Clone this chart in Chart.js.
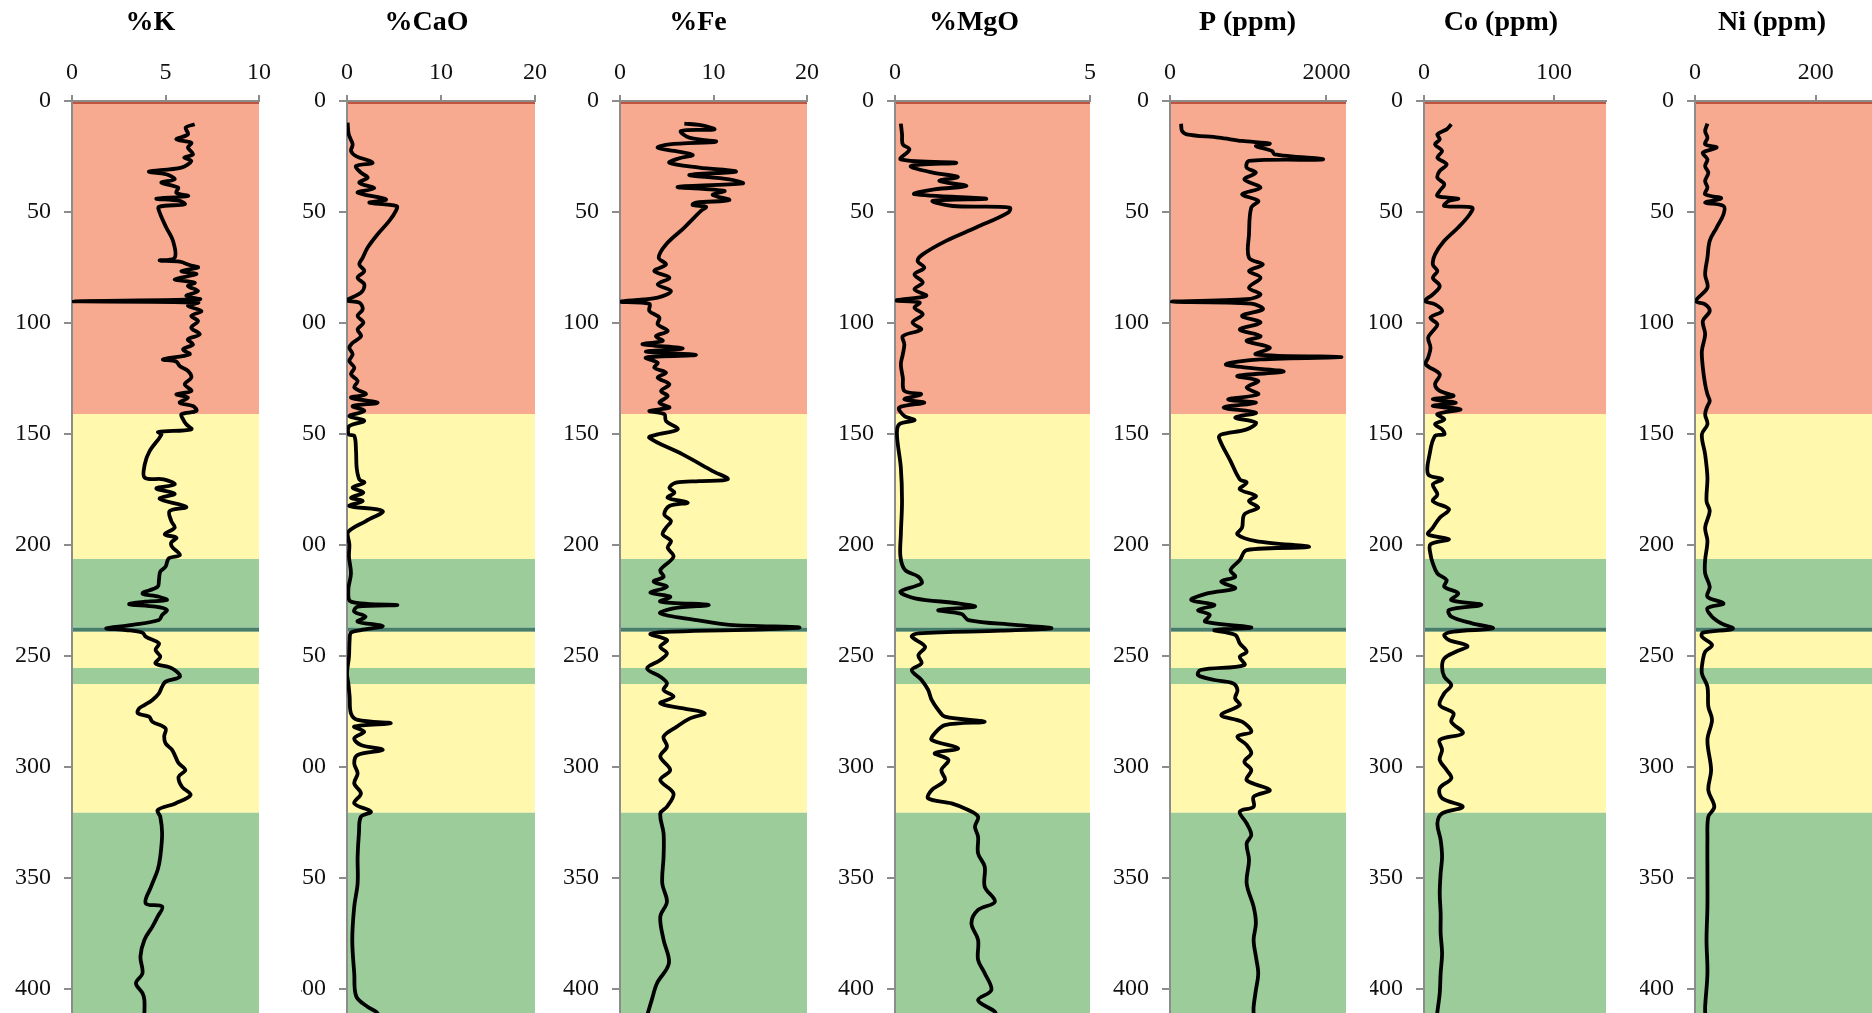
<!DOCTYPE html>
<html><head><meta charset="utf-8">
<script src="https://cdn.jsdelivr.net/npm/chart.js@4.4.1/dist/chart.umd.min.js"></script>
<style>
html,body{margin:0;padding:0;background:#fff;overflow:hidden;}
#wrap{position:relative;width:1872px;height:1013px;overflow:hidden;background:#fff;}
#wrap canvas{position:absolute;top:0;}
</style></head><body><div id="wrap"></div>
<script>
// ---------- DATA ----------
const titles = ['%K', '%CaO', '%Fe', '%MgO', 'P (ppm)', 'Co (ppm)', 'Ni (ppm)'];
const xMax   = [10, 20, 20, 5, 2250, 140, 300];
const xTicks = [[0, 5, 10], [0, 10, 20], [0, 10, 20], [0, 5], [0, 2000], [0, 100], [0, 200]];
const depthMax = 450, depthStep = 50;

// lithological zones (depth intervals)
const zoneFrom = [0, 141, 206.3, 237.2, 239.1, 255.4, 262.6, 320.6];
const zoneTo   = [141, 206.3, 237.2, 239.1, 255.4, 262.6, 320.6, 450];
const zoneKind = ['red', 'yellow', 'green', 'seam', 'yellow', 'green', 'yellow', 'green'];

const kDepth = [10.5,12,15,17.3,18.8,21,24,25.5,27,30,31.8,33,35.3,36.8,39,41.3,42.8,44,45,46.5,47.7,50.3,57,63,70.6,71.8,72.4,73.9,75,76.6,78,80.3,81.8,83.3,85.6,87.8,89.3,90.2,90.8,92.3,94.6,96.8,99.1,102.1,105.1,107.4,109.6,111.9,114.1,116.4,117.4,119.4,121.6,124.6,127.6,130.6,132.1,133.6,135.9,137.4,139.6,141.1,143.4,145.6,147.9,149.1,150.2,157.7,163.7,169.7,170.4,172.7,174.5,176.9,179.2,182.9,184.7,189.2,192.2,195.2,196.7,198.9,200.8,204.5,206,209.8,212,215.8,218.8,221.8,223.3,224.8,225.5,226.7,227.8,229.3,231.5,233.8,236,237.5,238.3,239.5,241.3,244.3,247.3,250.3,253.3,255.6,259.3,261.6,263.8,266.8,269.8,272.1,273.6,275.8,277.3,279.6,282.6,286.3,289.3,292.3,295.3,298.3,301.4,304.4,308.9,312.6,316.4,319.4,322.4,329.9,340.4,346.4,353.9,361.4,362.9,367.4,371.9,377.9,385.4,392.9,397.4,401.9,405,412];
const kValue = [6.56,6.08,6.2,5.58,6.38,6.2,6.47,6.0,6.38,5.85,4.12,5.04,5.49,4.78,5.67,5.58,6.2,4.51,5.76,6.03,4.65,4.69,5.04,5.4,5.49,4.69,5.76,6.29,6.74,5.85,6.65,5.49,6.56,6.2,6.74,6.11,6.83,0.05,6.74,6.2,6.92,6.38,6.74,6.38,6.83,6.2,6.47,5.94,6.29,4.87,5.58,5.76,6.2,6.38,6.03,6.38,5.58,6.2,5.76,6.47,6.65,5.85,5.94,6.11,6.38,4.6,4.78,4.15,3.89,3.89,4.9,5.49,4.51,5.49,4.69,6.11,5.22,5.31,5.49,4.96,5.58,5.31,5.35,5.77,5.18,5.0,4.72,4.65,4.58,3.77,4.65,5.07,3.94,3.06,4.47,5.07,4.82,4.65,3.24,1.83,2.89,3.77,3.94,4.65,4.47,4.72,4.47,5.35,5.77,5.0,4.82,4.65,4.3,3.87,3.59,3.52,4.12,4.3,5.0,4.93,5.0,5.35,5.53,5.7,6.06,5.7,5.88,6.34,5.53,4.58,4.72,4.82,4.72,4.58,4.23,3.94,4.82,4.58,4.3,3.87,3.66,3.77,3.42,3.77,3.87,3.87];

const caoDepth = [9.8,15,19.5,22.5,24.8,27.8,29.3,32.3,34.5,36.8,39.3,41.3,44.3,45.8,47.3,49.5,54,60,66,70.6,73.6,76.6,79.6,82.6,86.3,89.8,90.8,93.8,96.8,99.8,102.9,105.9,108.9,111.1,114.1,117.1,120.1,123.1,126.1,129.1,132.1,133.6,135.9,137.4,139.6,141.9,144.1,146.4,150.2,150.9,157.7,165.2,170.4,171.9,174.2,176.4,178.7,180.2,182.4,184.7,189.2,194.4,199.7,205.3,212.8,220.3,225.5,227,227.8,230,232.3,234.5,236.5,238.3,239.5,242.8,250.3,257.8,262.3,268.3,275.8,278.8,280.3,281.8,284.1,287.1,290.1,292.3,294.6,298.3,302.9,307.4,311.9,316.4,320.1,322.4,329.9,340.4,352.4,362.9,377.9,392.9,403.4,408,410.2,412];
const caoValue = [0.07,0.18,0.6,0.43,0.96,2.73,0.96,1.49,2.2,1.31,2.9,1.13,4.15,2.38,5.28,5.2,4.5,3.26,2.2,1.67,1.31,1.84,1.13,1.84,1.49,0.0,1.31,1.67,1.13,1.74,1.13,1.49,0.6,0.25,0.6,0.25,0.78,0.43,1.13,0.78,2.02,0.43,3.26,0.6,1.84,0.25,1.84,0.25,0.18,0.78,0.96,1.03,1.31,1.84,0.6,1.74,0.43,1.67,0.25,3.79,2.02,0.07,0.25,0.21,0.42,0.14,0.42,5.35,1.13,0.77,1.97,1.13,3.8,1.48,0.42,0.28,0.21,0.0,0.14,0.28,0.42,1.13,4.65,0.77,1.83,0.77,1.48,3.8,1.13,0.77,1.13,0.77,1.48,0.77,2.54,1.48,1.27,1.13,1.13,0.77,0.56,0.77,0.99,2.18,3.1,3.4];

const feDepth = [10.2,10.8,12.8,13.5,16.5,18.3,19.5,21,22.5,24.3,25.8,27.8,30,31.8,33.3,35.3,37.1,38.7,40.5,42.3,44.6,45.8,46.8,47.7,49.5,57,64.6,70.6,73.6,76.6,79.6,82.6,85.6,88.6,90.4,91.3,94.6,97.6,100.6,103.6,105.9,108.1,109.6,111.4,112.9,114.4,115.6,117.9,120.1,122.4,124.6,127.6,130.6,132.9,135.9,138.1,139.6,141.1,144.1,147.9,150.2,151.7,159.2,166.7,170.4,171.2,171.9,174.2,176.4,178.7,180.9,182.4,186.2,189.2,192.2,195.2,198.2,201.2,205.3,211.3,214.3,216.5,218.8,221.5,223.3,225.5,227,228.5,230.8,233.8,236,237.1,238,239,240.1,242.8,245.8,248.8,251.8,255.6,259.3,262.3,265.3,268.3,271.3,273.6,275.8,278.1,281.8,286.3,290.8,295.3,301.4,305.9,311.9,317.9,320.9,329.9,340.4,352.4,360.7,367.4,377.9,388.4,397.4,405,412];
const feValue = [6.88,8.48,10.09,6.52,7.41,10.27,5.28,4.03,5.81,7.77,6.35,5.28,8.48,12.41,7.41,11.69,13.12,6.17,11.16,9.91,11.69,8.13,7.77,9.2,8.66,6.88,4.92,4.14,4.92,3.67,5.28,4.03,5.45,4.03,0.1,3.14,3.14,4.21,4.03,5.1,3.85,4.56,2.42,6.7,2.78,8.13,2.78,4.03,3.67,4.92,4.03,5.28,4.39,5.1,4.21,5.28,3.14,4.74,4.92,6.17,4.03,3.14,6.7,9.91,11.52,8.48,5.99,5.28,5.81,5.1,7.24,5.28,4.74,5.45,4.92,4.56,5.45,5.1,5.72,4.31,4.66,3.6,5.02,3.25,5.37,4.31,9.47,5.72,4.31,8.2,11.73,19.15,15.26,5.72,3.25,5.02,4.31,5.02,4.31,2.9,4.31,5.02,4.66,5.72,4.31,6.78,9.05,7.49,6.08,4.66,5.02,4.31,5.37,4.31,5.72,5.02,4.31,4.66,4.66,4.52,5.02,4.31,4.66,5.23,3.96,3.39,2.9];

const mgoDepth = [10.2,15,19.5,21.8,26.3,27.8,29.3,32.3,34.2,36,38.3,39.8,42,44,45,47.3,48,50.3,57,63,69.1,72.1,75.1,78.1,81.8,84.8,87.8,89.8,90.8,93.1,96.1,99.8,102.9,105.9,109.6,114.1,118.6,124.6,130.6,132.1,134.4,135.9,138.1,141.9,143.8,145.6,150.2,165.2,180.2,195.2,205.3,211.3,214.3,217.3,221,224,226.3,227.8,229.3,231.1,233.8,236,237.5,238.6,239.8,241.3,245.8,249.6,253.3,256.3,260.8,265.3,269.8,274.3,277.3,279.6,281.1,284.8,287.8,291.6,293.8,296.8,301.4,305.9,310.4,314.1,316.4,319.4,322.4,326.9,331.4,338.9,344.9,353.9,360.7,364.4,370.4,377.9,386.9,392.9,400.5,405,410.2,412];
const mgoValue = [0.15,0.18,0.2,0.37,0.15,1.57,0.41,0.97,1.61,1.14,1.83,1.01,0.5,2.34,0.97,1.48,2.94,2.9,2.08,1.31,0.71,0.58,0.75,0.5,0.71,0.5,0.8,0.03,0.63,0.5,0.71,0.45,0.67,0.2,0.24,0.2,0.15,0.2,0.24,0.67,0.24,0.75,0.11,0.24,0.5,0.11,0.05,0.15,0.18,0.15,0.14,0.26,0.6,0.68,0.14,0.51,1.62,2.05,1.11,1.71,1.88,3.07,4.01,2.73,0.6,0.43,0.77,0.6,0.68,0.43,0.68,0.85,0.94,1.11,1.28,2.3,1.28,1.02,0.94,1.62,1.02,1.37,1.19,1.28,0.94,0.85,1.45,1.88,2.13,2.05,2.13,2.13,2.3,2.3,2.56,2.13,1.96,2.13,2.13,2.3,2.47,2.13,2.56,2.6];

const pDepth = [10.2,13.5,15,16.5,18,19.2,20.3,22.5,24,26.3,27,30,32.3,35.3,39,42,45,48,60,70.6,73.6,76.6,79.6,84.1,87.1,89.3,90.4,91.3,93.8,96.8,99.8,102.9,105.9,108.1,111.1,114.1,115.3,116.4,118.6,120.1,121.9,123.9,126.1,129.1,132.1,134.4,135.9,138.1,140.4,142.6,144.9,147.9,150.2,151.7,162.2,170.4,171.9,174.9,177.9,180.2,183.2,186.2,192.2,195.2,198.2,200.9,202.3,206.8,211.3,214.3,216.5,219.5,221.8,224.8,227,229.3,231.5,234.5,237.1,238.3,240.5,244.3,248.1,250.3,254.1,256.3,258.6,260.8,262.3,265.3,269.1,272.1,276.6,279.6,284.1,286.3,290.1,293.8,297.6,301.4,305.9,310.4,313.4,317.9,320.1,325.4,330.6,334.4,341.9,352.4,362.9,370.4,377.9,385.4,392.9,400.5,408,412];
const pValue = [142,154,213,626,921,1275,1098,1305,1335,1955,1010,980,1098,951,1157,921,1128,1039,1010,1010,1187,1010,1157,1010,1157,980,24,1039,1187,921,1157,892,1157,980,1275,1098,2191,1157,715,980,1453,862,1128,980,1128,744,1098,685,1098,833,1098,980,655,626,774,892,980,892,1098,1010,1128,951,921,862,1098,1777,980,892,774,833,655,833,478,272,567,360,508,449,1039,567,833,892,980,892,951,390,360,567,803,862,833,892,655,921,1039,862,980,1039,951,1039,980,1275,1069,1069,892,980,1039,980,1010,980,1069,1098,1069,1098,1128,1098,1069,1069];

const coDepth = [10.5,12.8,15,17.3,19.5,22.5,25.5,28.5,31.5,34.5,37.5,40.5,42.8,44,45,47.3,48,51,57,63,69.1,73.6,76.6,79.6,83.3,87.1,90.1,91.6,94.6,97.6,100.6,103.6,106.6,111.1,115.6,118.6,123.1,127.6,130.6,132.9,134.4,135.9,137.4,138.9,141.1,143.4,145.6,147.9,150.2,150.9,159.2,168.2,170.4,172.7,177.2,180.2,183.9,187.7,192.2,195.2,197.4,199.7,204.2,208.3,212.8,215.8,218.8,221.8,224.8,227,229.3,232.3,235.3,237.5,239,240.5,242.8,245.5,248.1,251.1,254.8,259.3,263.1,266.8,272.1,275.8,279.6,284.8,287.8,292.3,296.8,301.4,305.1,309.6,314.1,317.9,320.9,325.4,332.9,340.4,347.9,356.9,365.9,374.9,383.9,392.9,402,410.2,412];
const coValue = [21,17.4,10.3,12.1,8.5,13.9,10.3,17.4,12.1,10.3,15.6,12.1,10.3,26.3,19.2,15.6,37,35.2,26.3,15.6,8.5,6.8,10.3,6.8,12.1,6.8,0.7,8.5,13.9,5,10.3,6.8,3.2,5,3.2,1.4,12.1,8.5,12.1,22.7,6.8,24.5,6.8,28.1,10.3,15.6,8.5,13.9,15.6,8.5,4.3,3.2,13.9,6.8,10.3,6.8,19.2,12.1,6.8,3.2,19.2,5,5,6.8,10.3,17.4,15.6,26.3,21,44.1,19.2,21,37,52.9,22.7,15.6,19.2,33.4,24.5,15.6,13.9,15.6,21,15.6,12.1,22.7,21,29.8,12.1,13.9,12.1,17.4,21,12.1,13.9,29.8,13.9,10.3,12.8,13.9,12.8,12.1,12.8,12.8,13.9,12.8,12.1,10.3,10];

const niDepth = [10.2,13.5,16.5,19.5,21,23.3,26.3,29.3,32.3,36,39,42,43.8,45.8,47.3,51,57,63,70.6,78.1,84.1,90.1,91.6,94.6,99.1,105.1,112.6,120.1,127.6,132.1,135.1,137.4,141.1,145.6,150.2,159.2,169.7,180.2,184.7,192.2,198.2,206.8,212.8,218.8,223.3,226.3,228.5,232.3,235.3,237.7,239.5,241.3,245,248.1,251.8,257.8,263.8,272.8,278.8,287.8,301.4,310.4,317.9,322.4,332.9,347.9,362.9,377.9,392.9,408,412];
const niValue = [20.6,16.8,20.6,16.8,35.9,13,20.6,16.8,22.1,16.8,20.6,16.8,43.5,16.8,47.3,47.3,35.9,24.4,20.6,16.8,20.6,1.5,16.8,24.4,13,16.8,11.4,13,16.8,20.6,24.4,20.6,16.8,20.6,11.4,16.8,20.6,19.1,24.4,16.8,20.6,16.8,16.8,24.4,20.6,47.3,20.6,28.2,43.5,62.6,13,11.4,28.2,16.8,13,11.4,20.6,22.1,28.2,20.6,26.7,22.1,32,22.1,20.6,20.6,20.6,19.1,20.6,16.8,17];

const depths = [kDepth, caoDepth, feDepth, mgoDepth, pDepth, coDepth, niDepth];
const values = [kValue, caoValue, feValue, mgoValue, pValue, coValue, niValue];

// ---------- LAYOUT / STYLE ----------
const layoutPx = [ // canvas left, y-axis width, plot width, right spacer
  {left: 0,    axisW: 72, plotW: 187, padR: 42},
  {left: 301,  axisW: 46, plotW: 188, padR: 17},
  {left: 560,  axisW: 60, plotW: 187, padR: 29},
  {left: 830,  axisW: 65, plotW: 195, padR: 28},
  {left: 1100, axisW: 70, plotW: 176, padR: 49},
  {left: 1370, axisW: 54, plotW: 182, padR: 26},
  {left: 1640, axisW: 55, plotW: 181, padR: 28}
];
const zoneColor = {red: '#F7AA8F', yellow: '#FFF8AD', green: '#9BCC9A', seam: '#477E6A'};
const AX = '#8C8C8C';
const FONT = 'Liberation Serif';
const CANVAS_H = 1100;

const bandPlugin = {
  id: 'bands',
  beforeDraw(chart) {
    const {ctx, chartArea: a} = chart;
    const y = chart.scales.y;
    ctx.save();
    for (let i = 0; i < zoneFrom.length; i++) {
      const y1 = y.getPixelForValue(zoneFrom[i]);
      const y2 = y.getPixelForValue(zoneTo[i]);
      ctx.fillStyle = zoneColor[zoneKind[i]];
      ctx.fillRect(a.left, y1, a.right - a.left, y2 - y1);
    }
    ctx.fillStyle = '#C0553F';
    ctx.fillRect(a.left, y.getPixelForValue(zoneFrom[0]) + 1, a.right - a.left, 2);
    ctx.restore();
  }
};

const wrap = document.getElementById('wrap');
titles.forEach((t, i) => {
  const L = layoutPx[i];
  const w = L.axisW + L.plotW + L.padR;
  const c = document.createElement('canvas');
  c.width = w; c.height = CANVAS_H;
  c.style.left = L.left + 'px';
  c.style.width = w + 'px'; c.style.height = CANVAS_H + 'px';
  wrap.appendChild(c);
  new Chart(c, {
    type: 'scatter',
    data: {
      datasets: [{
        data: depths[i].map((d, k) => ({x: values[i][k], y: d})),
        showLine: true, borderColor: '#000', borderWidth: 3.8,
        pointRadius: 0, tension: 0.35, fill: false
      }]
    },
    options: {
      responsive: false, animation: false, events: [],
      layout: {padding: 0},
      plugins: {
        legend: {display: false}, tooltip: {enabled: false},
        title: {display: true, text: t, color: '#000',
          font: {family: FONT, size: 28, weight: 'bold', lineHeight: 1.2},
          padding: {top: 6, bottom: 0}}
      },
      scales: {
        x: {
          type: 'linear', position: 'top', min: 0, max: xMax[i],
          afterBuildTicks: s => { s.ticks = xTicks[i].map(v => ({value: v})); },
          afterFit: s => { s.height = 61.4; s.paddingLeft = 0; s.paddingRight = 0; },
          ticks: {autoSkip: false, maxRotation: 0,
            padding: 8, color: '#111', font: {family: FONT, size: 24}, callback: v => String(v)},
          grid: {drawOnChartArea: false, drawTicks: true, tickLength: 6, color: AX, lineWidth: 2},
          border: {display: true, color: AX, width: 2}
        },
        y: {
          type: 'linear', position: 'left', reverse: true, min: 0, max: depthMax,
          afterFit: s => { s.width = L.axisW; s.paddingTop = 0; s.paddingBottom = 0; },
          ticks: {stepSize: depthStep, autoSkip: false, padding: 13, color: '#111',
            font: {family: FONT, size: 24}, callback: v => String(v)},
          grid: {drawOnChartArea: false, drawTicks: true, tickLength: 8, color: AX, lineWidth: 2},
          border: {display: true, color: AX, width: 2}
        },
        y2: {
          type: 'linear', position: 'right', display: true,
          afterFit: s => { s.width = L.padR; s.paddingTop = 0; s.paddingBottom = 0; },
          ticks: {display: false}, grid: {display: false}, border: {display: false}
        }
      }
    },
    plugins: [bandPlugin]
  });
});
</script>
</body></html>
